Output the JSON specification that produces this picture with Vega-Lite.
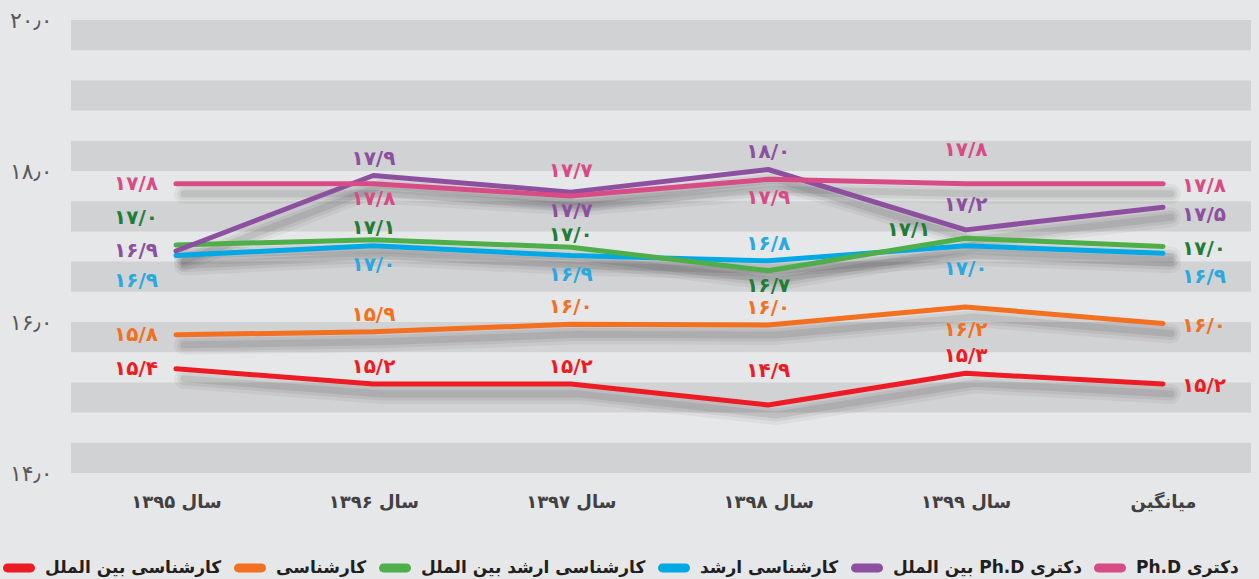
{
  "$schema": "https://vega.github.io/schema/vega-lite/v6.json",
  "width": 1180,
  "height": 453,
  "autosize": {"type": "none"},
  "padding": {"left": 71, "top": 20, "right": 8, "bottom": 106},
  "background": "#e6e7e8",
  "config": {"view": {"stroke": null}, "font": "DejaVu Sans"},
  "datasets": {
    "bands": [
      {"lo": 14.0, "hi": 14.4}, {"lo": 14.8, "hi": 15.2}, {"lo": 15.6, "hi": 16.0}, {"lo": 16.4, "hi": 16.8},
      {"lo": 17.2, "hi": 17.6}, {"lo": 18.0, "hi": 18.4}, {"lo": 18.8, "hi": 19.2}, {"lo": 19.6, "hi": 20.0}
    ],
    "scores": [
      {"year": "سال ۱۳۹۵", "t": "95", "sid": "bsi", "series": "کارشناسی بین الملل", "value": 15.38, "txt": "۱۵/۴"},
      {"year": "سال ۱۳۹۶", "t": "96", "sid": "bsi", "series": "کارشناسی بین الملل", "value": 15.18, "txt": "۱۵/۲"},
      {"year": "سال ۱۳۹۷", "t": "97", "sid": "bsi", "series": "کارشناسی بین الملل", "value": 15.18, "txt": "۱۵/۲"},
      {"year": "سال ۱۳۹۸", "t": "98", "sid": "bsi", "series": "کارشناسی بین الملل", "value": 14.9, "txt": "۱۴/۹"},
      {"year": "سال ۱۳۹۹", "t": "99", "sid": "bsi", "series": "کارشناسی بین الملل", "value": 15.32, "txt": "۱۵/۳"},
      {"year": "میانگین", "t": "avg", "sid": "bsi", "series": "کارشناسی بین الملل", "value": 15.18, "txt": "۱۵/۲"},
      {"year": "سال ۱۳۹۵", "t": "95", "sid": "bs", "series": "کارشناسی", "value": 15.83, "txt": "۱۵/۸"},
      {"year": "سال ۱۳۹۶", "t": "96", "sid": "bs", "series": "کارشناسی", "value": 15.87, "txt": "۱۵/۹"},
      {"year": "سال ۱۳۹۷", "t": "97", "sid": "bs", "series": "کارشناسی", "value": 15.97, "txt": "۱۶/۰"},
      {"year": "سال ۱۳۹۸", "t": "98", "sid": "bs", "series": "کارشناسی", "value": 15.96, "txt": "۱۶/۰"},
      {"year": "سال ۱۳۹۹", "t": "99", "sid": "bs", "series": "کارشناسی", "value": 16.2, "txt": "۱۶/۲"},
      {"year": "میانگین", "t": "avg", "sid": "bs", "series": "کارشناسی", "value": 15.98, "txt": "۱۶/۰"},
      {"year": "سال ۱۳۹۵", "t": "95", "sid": "ms", "series": "کارشناسی ارشد", "value": 16.88, "txt": "۱۶/۹"},
      {"year": "سال ۱۳۹۶", "t": "96", "sid": "ms", "series": "کارشناسی ارشد", "value": 17.01, "txt": "۱۷/۰"},
      {"year": "سال ۱۳۹۷", "t": "97", "sid": "ms", "series": "کارشناسی ارشد", "value": 16.88, "txt": "۱۶/۹"},
      {"year": "سال ۱۳۹۸", "t": "98", "sid": "ms", "series": "کارشناسی ارشد", "value": 16.81, "txt": "۱۶/۸"},
      {"year": "سال ۱۳۹۹", "t": "99", "sid": "ms", "series": "کارشناسی ارشد", "value": 17.01, "txt": "۱۷/۰"},
      {"year": "میانگین", "t": "avg", "sid": "ms", "series": "کارشناسی ارشد", "value": 16.91, "txt": "۱۶/۹"},
      {"year": "سال ۱۳۹۵", "t": "95", "sid": "msi", "series": "کارشناسی ارشد بین الملل", "value": 17.02, "txt": "۱۷/۰"},
      {"year": "سال ۱۳۹۶", "t": "96", "sid": "msi", "series": "کارشناسی ارشد بین الملل", "value": 17.09, "txt": "۱۷/۱"},
      {"year": "سال ۱۳۹۷", "t": "97", "sid": "msi", "series": "کارشناسی ارشد بین الملل", "value": 16.99, "txt": "۱۷/۰"},
      {"year": "سال ۱۳۹۸", "t": "98", "sid": "msi", "series": "کارشناسی ارشد بین الملل", "value": 16.68, "txt": "۱۶/۷"},
      {"year": "سال ۱۳۹۹", "t": "99", "sid": "msi", "series": "کارشناسی ارشد بین الملل", "value": 17.11, "txt": "۱۷/۱"},
      {"year": "میانگین", "t": "avg", "sid": "msi", "series": "کارشناسی ارشد بین الملل", "value": 17.0, "txt": "۱۷/۰"},
      {"year": "سال ۱۳۹۵", "t": "95", "sid": "phdi", "series": "دکتری Ph.D بین الملل", "value": 16.94, "txt": "۱۶/۹"},
      {"year": "سال ۱۳۹۶", "t": "96", "sid": "phdi", "series": "دکتری Ph.D بین الملل", "value": 17.94, "txt": "۱۷/۹"},
      {"year": "سال ۱۳۹۷", "t": "97", "sid": "phdi", "series": "دکتری Ph.D بین الملل", "value": 17.72, "txt": "۱۷/۷"},
      {"year": "سال ۱۳۹۸", "t": "98", "sid": "phdi", "series": "دکتری Ph.D بین الملل", "value": 18.02, "txt": "۱۸/۰"},
      {"year": "سال ۱۳۹۹", "t": "99", "sid": "phdi", "series": "دکتری Ph.D بین الملل", "value": 17.22, "txt": "۱۷/۲"},
      {"year": "میانگین", "t": "avg", "sid": "phdi", "series": "دکتری Ph.D بین الملل", "value": 17.52, "txt": "۱۷/۵"},
      {"year": "سال ۱۳۹۵", "t": "95", "sid": "phd", "series": "دکتری Ph.D", "value": 17.83, "txt": "۱۷/۸"},
      {"year": "سال ۱۳۹۶", "t": "96", "sid": "phd", "series": "دکتری Ph.D", "value": 17.83, "txt": "۱۷/۸"},
      {"year": "سال ۱۳۹۷", "t": "97", "sid": "phd", "series": "دکتری Ph.D", "value": 17.67, "txt": "۱۷/۷"},
      {"year": "سال ۱۳۹۸", "t": "98", "sid": "phd", "series": "دکتری Ph.D", "value": 17.89, "txt": "۱۷/۹"},
      {"year": "سال ۱۳۹۹", "t": "99", "sid": "phd", "series": "دکتری Ph.D", "value": 17.83, "txt": "۱۷/۸"},
      {"year": "میانگین", "t": "avg", "sid": "phd", "series": "دکتری Ph.D", "value": 17.83, "txt": "۱۷/۸"}
    ]
  },
  "layer": [
    {
      "data": {"name": "bands"},
      "mark": {"type": "rect", "color": "#d1d2d4"},
      "encoding": {
        "x": {"value": 0},
        "x2": {"value": "width"},
        "y": {
          "field": "lo", "type": "quantitative", "title": null,
          "scale": {"domain": [14, 20], "nice": false, "zero": false},
          "axis": {"title": null, "values": [14, 16, 18, 20], "domain": false, "ticks": false, "grid": false, "labelFontSize": 22, "labelColor": "#58595b", "labelPadding": 19,
            "labelExpr": "datum.value == 20 ? '۲۰٫۰' : datum.value == 18 ? '۱۸٫۰' : datum.value == 16 ? '۱۶٫۰' : '۱۴٫۰'"}
        },
        "y2": {"field": "hi"}
      }
    },
    {
      "data": {"name": "scores"},
      "encoding": {
        "x": {"field": "year", "type": "nominal", "title": null, "sort": ["سال ۱۳۹۵", "سال ۱۳۹۶", "سال ۱۳۹۷", "سال ۱۳۹۸", "سال ۱۳۹۹", "میانگین"], "scale": {"type": "point", "range": [105, 1092], "padding": 0},
          "axis": {"title": null, "domain": false, "ticks": false, "grid": false, "labelAngle": 0, "labelFontSize": 18, "labelFontWeight": "bold", "labelColor": "#414042", "labelPadding": 20}},
        "y": {"field": "value", "type": "quantitative", "title": null, "scale": {"domain": [14, 20], "nice": false, "zero": false},
          "axis": {"title": null, "values": [14, 16, 18, 20], "domain": false, "ticks": false, "grid": false, "labelFontSize": 22, "labelColor": "#58595b", "labelPadding": 19,
            "labelExpr": "datum.value == 20 ? '۲۰٫۰' : datum.value == 18 ? '۱۸٫۰' : datum.value == 16 ? '۱۶٫۰' : '۱۴٫۰'"}},
        "detail": {"field": "sid"},
        "xOffset": {"value": 8},
        "yOffset": {"value": 10}
      },
      "layer": [
        {"mark": {"type": "line", "color": "#000000", "opacity": 0.045, "strokeWidth": 20, "strokeCap": "round", "strokeJoin": "round"}},
        {"mark": {"type": "line", "color": "#000000", "opacity": 0.06, "strokeWidth": 13, "strokeCap": "round", "strokeJoin": "round"}},
        {"mark": {"type": "line", "color": "#000000", "opacity": 0.08, "strokeWidth": 7, "strokeCap": "round", "strokeJoin": "round"}}
      ]
    },
    {
      "data": {"name": "scores"},
      "mark": {"type": "line", "strokeWidth": 5, "strokeCap": "round", "strokeJoin": "round"},
      "encoding": {
        "x": {
          "field": "year", "type": "nominal", "title": null,
          "sort": ["سال ۱۳۹۵", "سال ۱۳۹۶", "سال ۱۳۹۷", "سال ۱۳۹۸", "سال ۱۳۹۹", "میانگین"],
          "scale": {"type": "point", "range": [105, 1092], "padding": 0},
          "axis": {"title": null, "domain": false, "ticks": false, "grid": false, "labelAngle": 0, "labelFontSize": 18, "labelFontWeight": "bold", "labelColor": "#414042", "labelPadding": 20}
        },
        "y": {
          "field": "value", "type": "quantitative", "title": null,
          "scale": {"domain": [14, 20], "nice": false, "zero": false},
          "axis": {"title": null, "values": [14, 16, 18, 20], "domain": false, "ticks": false, "grid": false, "labelFontSize": 22, "labelColor": "#58595b", "labelPadding": 19,
            "labelExpr": "datum.value == 20 ? '۲۰٫۰' : datum.value == 18 ? '۱۸٫۰' : datum.value == 16 ? '۱۶٫۰' : '۱۴٫۰'"}
        },
        "color": {
          "field": "series", "type": "nominal",
          "scale": {
            "domain": ["کارشناسی بین الملل", "کارشناسی", "کارشناسی ارشد بین الملل", "کارشناسی ارشد", "دکتری Ph.D بین الملل", "دکتری Ph.D"],
            "range": ["#ed1c24", "#f37021", "#4dae4a", "#00a9e6", "#8d4f9f", "#d84c86"]
          },
          "legend": {
            "orient": "none", "legendX": -68, "legendY": 532, "direction": "horizontal", "title": null,
            "symbolType": "M-0.72,-0.28 L0.72,-0.28 A0.28,0.28 0 0 1 0.72,0.28 L-0.72,0.28 A0.28,0.28 0 0 1 -0.72,-0.28 Z",
            "symbolSize": 1024, "symbolStrokeWidth": 0,
            "labelFontSize": 17, "labelFontWeight": "bold", "labelColor": "#231f20", "labelOffset": 10, "columnPadding": 12, "labelLimit": 400,
            "labelExpr": "'\u202b' + datum.label + '\u202c'",
            "encode": {"symbols": {"update": {"fill": {"scale": "color", "field": "value"}, "strokeWidth": {"value": 0}, "opacity": {"value": 1}}}}
          }
        }
      }
    },
    {
      "data": {"name": "scores"},
      "encoding": {
        "x": {"field": "year", "type": "nominal", "title": null, "sort": ["سال ۱۳۹۵", "سال ۱۳۹۶", "سال ۱۳۹۷", "سال ۱۳۹۸", "سال ۱۳۹۹", "میانگین"], "scale": {"type": "point", "range": [105, 1092], "padding": 0},
          "axis": {"title": null, "domain": false, "ticks": false, "grid": false, "labelAngle": 0, "labelFontSize": 18, "labelFontWeight": "bold", "labelColor": "#414042", "labelPadding": 20}},
        "y": {"field": "value", "type": "quantitative", "title": null, "scale": {"domain": [14, 20], "nice": false, "zero": false},
          "axis": {"title": null, "values": [14, 16, 18, 20], "domain": false, "ticks": false, "grid": false, "labelFontSize": 22, "labelColor": "#58595b", "labelPadding": 19,
            "labelExpr": "datum.value == 20 ? '۲۰٫۰' : datum.value == 18 ? '۱۸٫۰' : datum.value == 16 ? '۱۶٫۰' : '۱۴٫۰'"}},
        "text": {"field": "txt"},
        "fill": {"field": "sid", "type": "nominal", "scale": {"domain": ["phd", "phdi", "ms", "msi", "bs", "bsi"], "range": ["#d84c86", "#8d4f9f", "#28a9e0", "#1f7d37", "#f37021", "#ed1c24"]}, "legend": null}
      },
      "layer": [
        {"transform": [{"filter": "indexof(['95|phd','95|phdi','95|bs','95|bsi'], datum.t + '|' + datum.sid) >= 0"}], "mark": {"type": "text", "fontSize": 20, "fontWeight": "bold", "baseline": "middle", "align": "center", "dx": -40, "dy": 0}},
        {"transform": [{"filter": "indexof(['95|msi'], datum.t + '|' + datum.sid) >= 0"}], "mark": {"type": "text", "fontSize": 20, "fontWeight": "bold", "baseline": "middle", "align": "center", "dx": -40, "dy": -27}},
        {"transform": [{"filter": "indexof(['95|ms'], datum.t + '|' + datum.sid) >= 0"}], "mark": {"type": "text", "fontSize": 20, "fontWeight": "bold", "baseline": "middle", "align": "center", "dx": -40, "dy": 25}},
        {"transform": [{"filter": "indexof(['96|phdi','96|bs','96|bsi','97|bs','97|bsi','98|phdi','98|ms','98|bs','99|bsi'], datum.t + '|' + datum.sid) >= 0"}], "mark": {"type": "text", "fontSize": 20, "fontWeight": "bold", "baseline": "middle", "align": "center", "dx": 0, "dy": -17}},
        {"transform": [{"filter": "indexof(['97|msi','96|msi'], datum.t + '|' + datum.sid) >= 0"}], "mark": {"type": "text", "fontSize": 20, "fontWeight": "bold", "baseline": "middle", "align": "center", "dx": 0, "dy": -12}},
        {"transform": [{"filter": "indexof(['97|phd','99|phdi'], datum.t + '|' + datum.sid) >= 0"}], "mark": {"type": "text", "fontSize": 20, "fontWeight": "bold", "baseline": "middle", "align": "center", "dx": 0, "dy": -25}},
        {"transform": [{"filter": "indexof(['99|phd','98|bsi'], datum.t + '|' + datum.sid) >= 0"}], "mark": {"type": "text", "fontSize": 20, "fontWeight": "bold", "baseline": "middle", "align": "center", "dx": 0, "dy": -34}},
        {"transform": [{"filter": "indexof(['96|ms','97|phdi','97|ms','98|phd'], datum.t + '|' + datum.sid) >= 0"}], "mark": {"type": "text", "fontSize": 20, "fontWeight": "bold", "baseline": "middle", "align": "center", "dx": 0, "dy": 19}},
        {"transform": [{"filter": "indexof(['98|msi','96|phd'], datum.t + '|' + datum.sid) >= 0"}], "mark": {"type": "text", "fontSize": 20, "fontWeight": "bold", "baseline": "middle", "align": "center", "dx": 0, "dy": 15}},
        {"transform": [{"filter": "indexof(['99|ms','99|bs'], datum.t + '|' + datum.sid) >= 0"}], "mark": {"type": "text", "fontSize": 20, "fontWeight": "bold", "baseline": "middle", "align": "center", "dx": 0, "dy": 23}},
        {"transform": [{"filter": "indexof(['99|msi'], datum.t + '|' + datum.sid) >= 0"}], "mark": {"type": "text", "fontSize": 20, "fontWeight": "bold", "baseline": "middle", "align": "center", "dx": -57, "dy": -8}},
        {"transform": [{"filter": "indexof(['avg|phd','avg|msi','avg|bs','avg|bsi'], datum.t + '|' + datum.sid) >= 0"}], "mark": {"type": "text", "fontSize": 20, "fontWeight": "bold", "baseline": "middle", "align": "center", "dx": 41, "dy": 2}},
        {"transform": [{"filter": "indexof(['avg|phdi'], datum.t + '|' + datum.sid) >= 0"}], "mark": {"type": "text", "fontSize": 20, "fontWeight": "bold", "baseline": "middle", "align": "center", "dx": 41, "dy": 8}},
        {"transform": [{"filter": "indexof(['avg|ms'], datum.t + '|' + datum.sid) >= 0"}], "mark": {"type": "text", "fontSize": 20, "fontWeight": "bold", "baseline": "middle", "align": "center", "dx": 41, "dy": 24}}
      ]
    }
  ]
}
